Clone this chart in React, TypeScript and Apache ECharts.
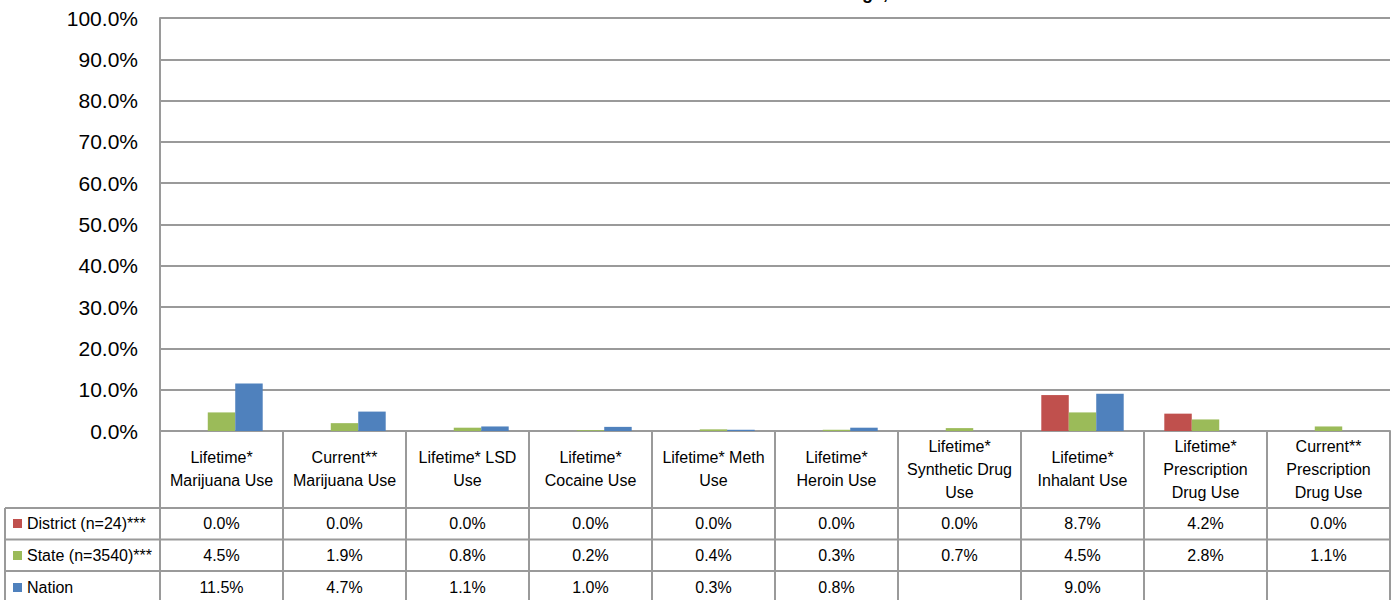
import React, { useEffect, useRef } from "react";
import * as echarts from "echarts";

const categories = [
  "Lifetime*\nMarijuana Use",
  "Current**\nMarijuana Use",
  "Lifetime* LSD\nUse",
  "Lifetime*\nCocaine Use",
  "Lifetime* Meth\nUse",
  "Lifetime*\nHeroin Use",
  "Lifetime*\nSynthetic Drug\nUse",
  "Lifetime*\nInhalant Use",
  "Lifetime*\nPrescription\nDrug Use",
  "Current**\nPrescription\nDrug Use",
];
const seriesNames = ["District (n=24)***", "State (n=3540)***", "Nation"];
const district = [0.0, 0.0, 0.0, 0.0, 0.0, 0.0, 0.0, 8.7, 4.2, 0.0];
const state = [4.5, 1.9, 0.8, 0.2, 0.4, 0.3, 0.7, 4.5, 2.8, 1.1];
const nation: (number | null)[] = [11.5, 4.7, 1.1, 1.0, 0.3, 0.8, null, 9.0, null, null];
const colors = ["#C0504D", "#9BBB59", "#4F81BD"];
const titleFragment = "Substance Usage,";

const FONT = "'Liberation Sans', Arial, sans-serif";
const LINE = "#9a9a9a";

export default function App() {
  const ref = useRef<HTMLDivElement>(null);
  useEffect(() => {
    document.body.style.margin = "0";
    const chart = echarts.init(ref.current!, null, { renderer: "svg" });
    const gridLeft = 160;
    const gridRight = 10;
    const gridTop = 18;
    const gridBottom = 169;
    const axisY = 600 - gridBottom; // 431
    const rowLines = [508, 539.5, 571];
    const rowCenters = [523.5, 555, 587];
    const fmt = (v: number | null) => (v === null ? "" : v.toFixed(1) + "%");
    const rows = [district, state, nation];

    const valueAxes = rows.map((r, i) => ({
      type: "category",
      gridIndex: 0,
      position: "bottom",
      offset: rowCenters[i] - axisY,
      data: r.map(fmt),
      axisLine: { show: false },
      axisTick: { show: false },
      axisLabel: {
        interval: 0,
        margin: 0,
        verticalAlign: "middle",
        fontSize: 16,
        fontFamily: FONT,
        color: "#000",
      },
    }));

    const graphics: any[] = rowLines.map((y) => ({
      type: "line",
      shape: { x1: 5, y1: y, x2: 1400 - gridRight, y2: y },
      style: { stroke: LINE, lineWidth: 2 },
    }));
    graphics.push({
      type: "line",
      shape: { x1: 5, y1: rowLines[0], x2: 5, y2: 605 },
      style: { stroke: LINE, lineWidth: 2 },
    });
    graphics.push({
      type: "text",
      style: {
        text: titleFragment,
        x: 888,
        y: 2,
        align: "right",
        verticalAlign: "bottom",
        fontSize: 18,
        fontWeight: "bold",
        fontFamily: FONT,
        fill: "#000",
      },
    });

    chart.setOption({
      animation: false,
      color: colors,
      grid: { left: gridLeft, right: gridRight, top: gridTop, bottom: gridBottom, containLabel: false },
      legend: {
        data: seriesNames,
        orient: "vertical",
        left: 13,
        top: 513.5,
        padding: 0,
        itemWidth: 9,
        itemHeight: 9,
        itemGap: 12,
        icon: "rect",
        selectedMode: false,
        textStyle: { fontSize: 16, fontFamily: FONT, color: "#000", lineHeight: 20 },
      },
      xAxis: [
        {
          type: "category",
          data: categories,
          axisLine: { show: true, lineStyle: { color: LINE, width: 2 } },
          axisTick: {
            show: true,
            interval: 0,
            length: 175,
            lineStyle: { color: LINE, width: 2 },
          },
          axisLabel: {
            interval: 0,
            margin: 38,
            verticalAlign: "middle",
            fontSize: 16,
            lineHeight: 23,
            fontFamily: FONT,
            color: "#000",
          },
        },
        ...valueAxes,
      ],
      yAxis: {
        type: "value",
        min: 0,
        max: 100,
        interval: 10,
        axisLine: { show: true, lineStyle: { color: LINE, width: 2 } },
        axisTick: { show: false },
        splitLine: { show: true, lineStyle: { color: LINE, width: 2 } },
        axisLabel: {
          margin: 22,
          fontSize: 21,
          fontFamily: FONT,
          color: "#000",
          formatter: (v: number) => v.toFixed(1) + "%",
        },
      },
      series: [district, state, nation].map((d, i) => ({
        name: seriesNames[i],
        type: "bar",
        xAxisIndex: 0,
        data: d,
        barGap: "0%",
        barCategoryGap: "33%",
      })),
      graphic: graphics,
    });
    return () => chart.dispose();
  }, []);
  return <div ref={ref} style={{ width: 1400, height: 600 }} />;
}
